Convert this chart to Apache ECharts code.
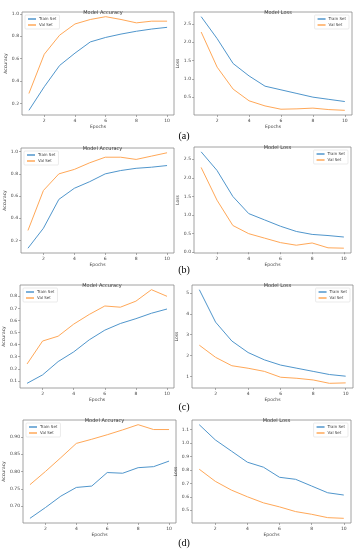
<!DOCTYPE html>
<html><head><meta charset="utf-8">
<script src="https://cdn.jsdelivr.net/npm/echarts@6/dist/echarts.min.js"></script>
<style>html,body{margin:0;padding:0;background:#fff}#c{width:359px;height:550px}</style>
</head><body><div id="c"></div>
<script>
const epochs = [1,2,3,4,5,6,7,8,9,10];
const xTicks = [2,4,6,8,10];

const aAccTrain = [0.14,0.35,0.54,0.65,0.75,0.79,0.82,0.845,0.865,0.88];
const aAccVal   = [0.29,0.64,0.81,0.91,0.95,0.975,0.95,0.92,0.935,0.935];
const aLossTrain = [2.7,2.1,1.42,1.08,0.8,0.7,0.6,0.5,0.44,0.38];
const aLossVal   = [2.28,1.32,0.72,0.4,0.26,0.17,0.18,0.2,0.16,0.14];

const bAccTrain = [0.13,0.31,0.57,0.67,0.73,0.8,0.83,0.85,0.86,0.875];
const bAccVal   = [0.29,0.65,0.8,0.84,0.9,0.95,0.95,0.93,0.96,0.99];
const bLossTrain = [2.7,2.2,1.5,1.04,0.87,0.7,0.56,0.48,0.45,0.41];
const bLossVal   = [2.28,1.4,0.72,0.5,0.38,0.26,0.19,0.25,0.12,0.11];

const cAccTrain = [0.08,0.15,0.26,0.34,0.44,0.52,0.575,0.615,0.66,0.695];
const cAccVal   = [0.24,0.43,0.47,0.57,0.65,0.72,0.71,0.76,0.855,0.8];
const cLossTrain = [5.15,3.6,2.7,2.15,1.8,1.55,1.4,1.25,1.1,1.02];
const cLossVal   = [2.5,1.92,1.52,1.4,1.25,0.97,0.92,0.84,0.68,0.7];

const dAccTrain = [0.665,0.696,0.729,0.754,0.758,0.797,0.795,0.811,0.814,0.83];
const dAccVal   = [0.762,0.8,0.84,0.881,0.893,0.906,0.92,0.935,0.921,0.921];
const dLossTrain = [1.136,1.023,0.94,0.857,0.82,0.745,0.73,0.68,0.63,0.613];
const dLossVal   = [0.805,0.715,0.65,0.6,0.555,0.525,0.49,0.47,0.445,0.44];

const yTicksAAcc = [0.2,0.4,0.6,0.8,1.0];
const yTicksALoss = [0.5,1.0,1.5,2.0,2.5];
const yTicksBAcc = [0.2,0.4,0.6,0.8,1.0];
const yTicksBLoss = [0.0,0.5,1.0,1.5,2.0,2.5];
const yTicksCAcc = [0.1,0.2,0.3,0.4,0.5,0.6,0.7,0.8];
const yTicksCLoss = [1,2,3,4,5];
const yTicksDAcc = [0.70,0.75,0.80,0.85,0.90];
const yTicksDLoss = [0.5,0.6,0.7,0.8,0.9,1.0,1.1];

const panelLabels = ['(a)','(b)','(c)','(d)'];
const seriesNames = ['Train Set','Val Set'];

const panels = [
  {train:aAccTrain,val:aAccVal,ticks:yTicksAAcc,dec:1,title:'Model Accuracy',yname:'Accuracy',legendLeft:true,box:[22,12,174,115]},
  {train:aLossTrain,val:aLossVal,ticks:yTicksALoss,dec:1,title:'Model Loss',yname:'Loss',legendLeft:false,box:[194,12,352,115]},
  {train:bAccTrain,val:bAccVal,ticks:yTicksBAcc,dec:1,title:'Model Accuracy',yname:'Accuracy',legendLeft:true,box:[21,148,174,253]},
  {train:bLossTrain,val:bLossVal,ticks:yTicksBLoss,dec:1,title:'Model Loss',yname:'Loss',legendLeft:false,box:[194,147,351,253]},
  {train:cAccTrain,val:cAccVal,ticks:yTicksCAcc,dec:1,title:'Model Accuracy',yname:'Accuracy',legendLeft:true,box:[20,285,174,388]},
  {train:cLossTrain,val:cLossVal,ticks:yTicksCLoss,dec:0,title:'Model Loss',yname:'Loss',legendLeft:false,box:[192,285,353,388]},
  {train:dAccTrain,val:dAccVal,ticks:yTicksDAcc,dec:2,title:'Model Accuracy',yname:'Accuracy',legendLeft:true,box:[23,420,176,523]},
  {train:dLossTrain,val:dLossVal,ticks:yTicksDLoss,dec:1,title:'Model Loss',yname:'Loss',legendLeft:false,box:[192,420,351,523]}
];
const labelPos = [[179,126],[179,260],[179,397],[179,533]];

const FONT = 'DejaVu Sans';
const TRAIN = '#5096cc', VAL = '#ffa858';
const grid=[], xAxis=[], yAxis=[], series=[], title=[], legend=[];
panels.forEach((p,i)=>{
  const [l,t,r,b] = p.box;
  grid.push({left:l,top:t,width:r-l,height:b-t,show:true,borderColor:'#8a8a8a',borderWidth:0.8,containLabel:false});
  const all = p.train.concat(p.val);
  const mn = Math.min(...all), mx = Math.max(...all), m = (mx-mn)*0.05;
  xAxis.push({type:'value',gridIndex:i,min:0.55,max:10.45,
    name:'Epochs',nameLocation:'middle',nameGap:8,nameTextStyle:{fontSize:4.5,fontFamily:FONT,color:'#444'},
    axisLine:{show:false},splitLine:{show:false},
    axisTick:{show:true,customValues:xTicks,length:2,inside:false,lineStyle:{color:'#777',width:0.6}},
    axisLabel:{customValues:xTicks,fontSize:4.5,fontFamily:FONT,color:'#444',margin:3}});
  yAxis.push({type:'value',gridIndex:i,min:mn-m,max:mx+m,
    name:p.yname,nameLocation:'middle',nameGap:p.dec===2?16:13,nameTextStyle:{fontSize:4.5,fontFamily:FONT,color:'#444'},
    axisLine:{show:false},splitLine:{show:false},
    axisTick:{show:true,customValues:p.ticks,length:2,lineStyle:{color:'#777',width:0.6}},
    axisLabel:{customValues:p.ticks,fontSize:4.5,fontFamily:FONT,color:'#444',margin:3,
      formatter:v=>Number(v).toFixed(p.dec)}});
  title.push({text:p.title,left:(l+r)/2,top:t-7,textAlign:'center',
    textStyle:{fontSize:5,fontWeight:'normal',fontFamily:FONT,color:'#333'}});
  series.push({name:seriesNames[0],type:'line',xAxisIndex:i,yAxisIndex:i,symbol:'none',
    data:epochs.map((e,k)=>[e,p.train[k]]),lineStyle:{color:TRAIN,width:1},itemStyle:{color:TRAIN}});
  series.push({name:seriesNames[1],type:'line',xAxisIndex:i,yAxisIndex:i,symbol:'none',
    data:epochs.map((e,k)=>[e,p.val[k]]),lineStyle:{color:VAL,width:1},itemStyle:{color:VAL}});
  const lg = {data:seriesNames,orient:'vertical',top:t+3,itemWidth:8,itemHeight:1.5,itemGap:2,padding:[2,3,2,3],
    borderColor:'#ddd',borderWidth:0.6,borderRadius:1,backgroundColor:'#fff',
    textStyle:{fontSize:4,fontFamily:FONT,color:'#444',padding:[0,0,0,-2]},icon:'rect',selectedMode:false};
  if(p.legendLeft) lg.left=l+3; else lg.right=359-r+3;
  legend.push(lg);
});
panelLabels.forEach((s,i)=>{
  title.push({text:s,left:labelPos[i][0],top:labelPos[i][1],textAlign:'center',
    textStyle:{fontSize:10,fontWeight:'normal',fontFamily:'Liberation Serif',color:'#000'}});
});
const chart = echarts.init(document.getElementById('c'),null,{renderer:'canvas'});
chart.setOption({animation:false,backgroundColor:'#fff',title,grid,xAxis,yAxis,legend,series});
</script></body></html>
